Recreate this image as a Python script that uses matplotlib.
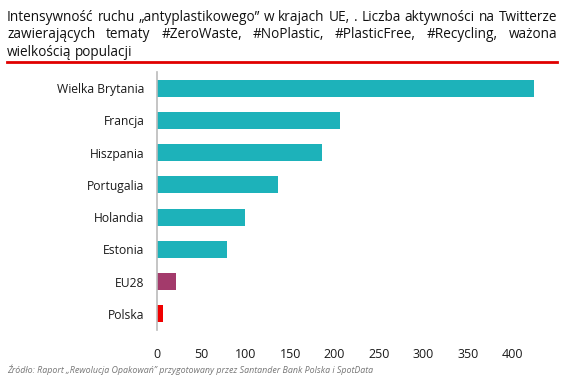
import matplotlib
matplotlib.use("Agg")
import matplotlib.pyplot as plt
from matplotlib.lines import Line2D

categories = ["Wielka Brytania", "Francja", "Hiszpania", "Portugalia", "Holandia", "Estonia", "EU28", "Polska"]
values = [424, 206, 186, 136, 99, 79, 21, 7]
colors = ["#1DB2BA"] * 6 + ["#A33A6B", "#F00000"]
xticks = [0, 50, 100, 150, 200, 250, 300, 350, 400]

title_lines = [
    "Intensywność ruchu „antyplastikowego” w krajach UE, . Liczba aktywności na Twitterze",
    "zawierających tematy #ZeroWaste, #NoPlastic, #PlasticFree, #Recycling, ważona",
    "wielkością populacji",
]
source = "Źródło: Raport „Rewolucja Opakowań” przygotowany przez Santander Bank Polska i SpotData"

plt.rcParams['font.family'] = ['Open Sans', 'DejaVu Sans']
W, H = 572, 387
fig = plt.figure(figsize=(W / 100, H / 100), dpi=100)

ax = fig.add_axes([157 / W, 57 / H, (538 - 157) / W, (330 - 72) / H])
y = list(range(len(categories)))
ax.barh(y, values, height=0.53, color=colors)
ax.set_ylim(len(categories) - 0.5, -0.5)
ax.set_xlim(0, 429)
ax.set_yticks(y)
ax.set_yticklabels(categories, fontsize=8.7, color="#1a1a1a")
ax.set_xticks(xticks)
ax.set_xticklabels([str(v) for v in xticks], fontsize=9, color="#1a1a1a")
ax.tick_params(axis="both", length=0)
ax.tick_params(axis="y", pad=9)
ax.tick_params(axis="x", pad=13)
for s in ["top", "right", "bottom"]:
    ax.spines[s].set_visible(False)
ax.spines["left"].set_color("#BBBBBB")
ax.spines["left"].set_linewidth(1.2)

# Title, justified
left_px, right_px = 7, 557
fig.canvas.draw()
renderer = fig.canvas.get_renderer()

probe = fig.text(0, 0, title_lines[0], fontsize=10)
nat = probe.get_window_extent(renderer).width
probe.remove()
tfs = 10 * (right_px - left_px - 4) / nat

baselines = [21, 38.5, 56]
for i, line in enumerate(title_lines):
    words = line.split(" ")
    texts = [fig.text(0, 1 - baselines[i] / H, w, fontsize=tfs, color="#111111", va="baseline", ha="left") for w in words]
    widths = [t.get_window_extent(renderer).width for t in texts]
    if i < len(title_lines) - 1 and len(words) > 1:
        gap = (right_px - left_px - sum(widths)) / (len(words) - 1)
    else:
        sp = fig.text(0, 0, "a a", fontsize=tfs)
        sp2 = fig.text(0, 0, "aa", fontsize=tfs)
        gap = sp.get_window_extent(renderer).width - sp2.get_window_extent(renderer).width
        sp.remove(); sp2.remove()
    x = left_px
    for t, w in zip(texts, widths):
        t.set_x(x / W)
        x += w + gap

fig.add_artist(Line2D([left_px / W, right_px / W], [1 - 62 / H, 1 - 62 / H], color="#E00000", linewidth=2))

fig.text(7 / W, 1 - 370 / H, source, fontsize=6.4, style="italic", color="#777777", va="center", ha="left")

fig.savefig("out.png", dpi=100)
